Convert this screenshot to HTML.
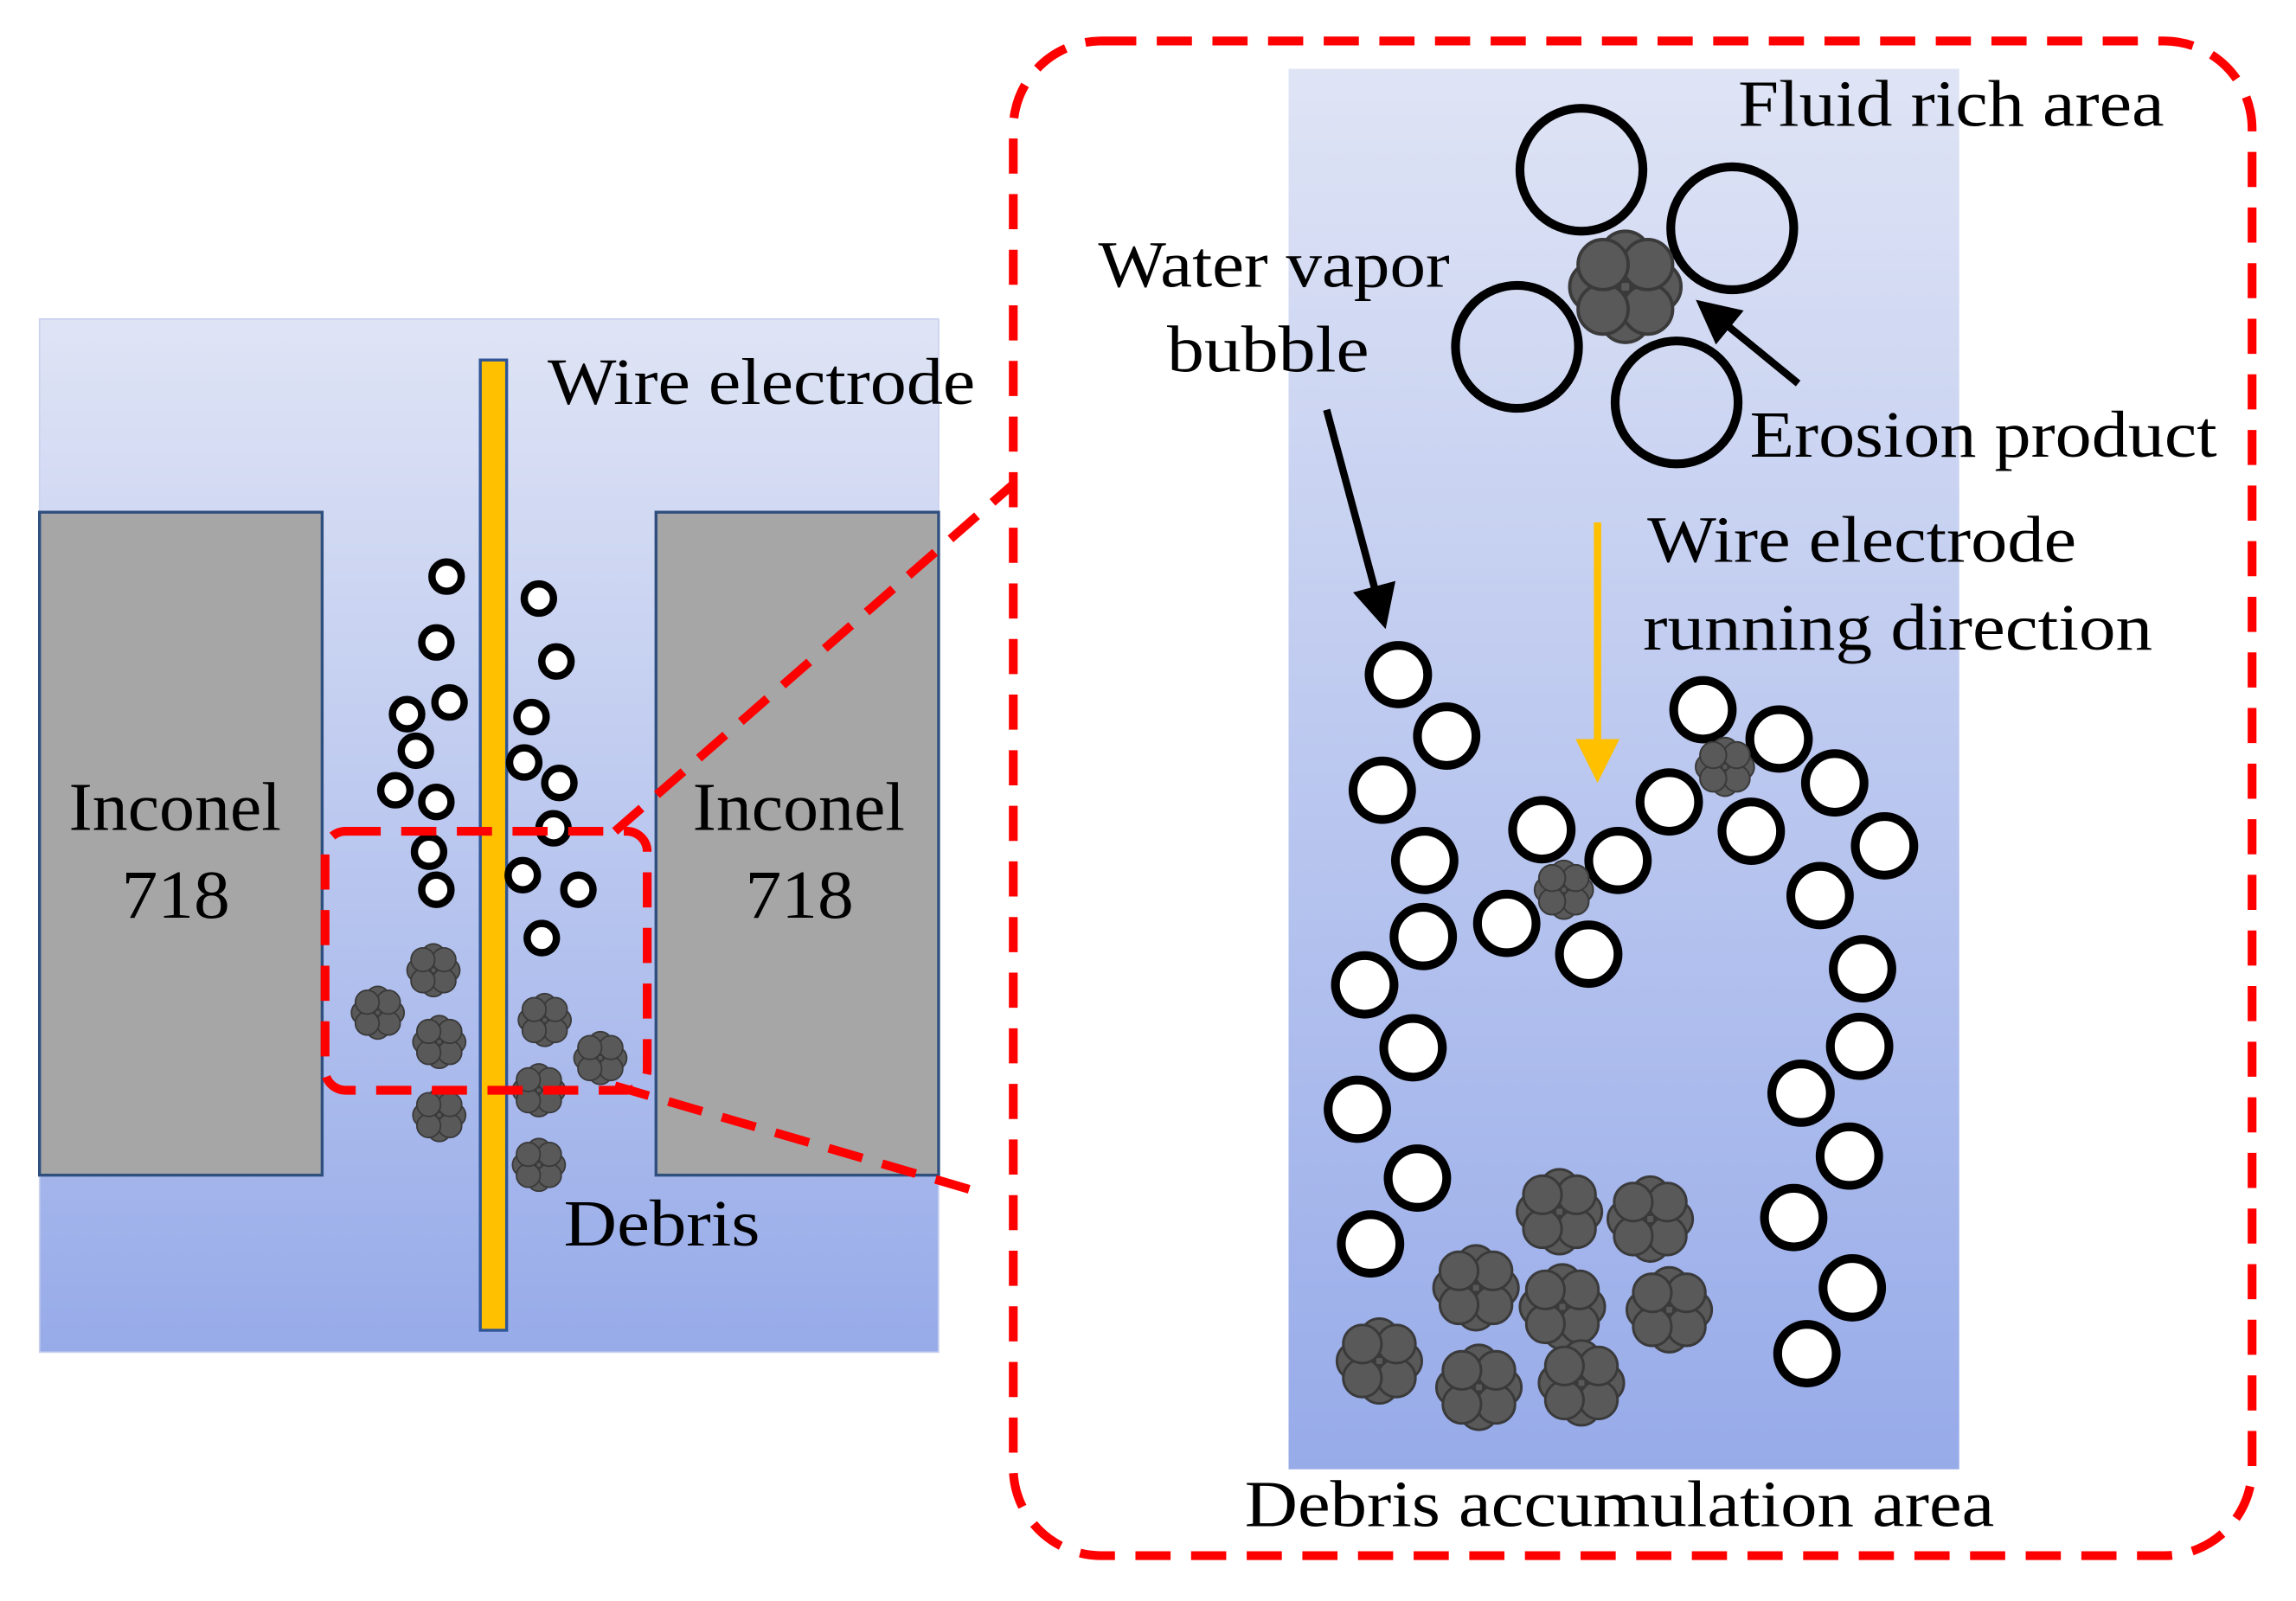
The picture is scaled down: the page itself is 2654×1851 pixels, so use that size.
<!DOCTYPE html>
<html><head><meta charset="utf-8"><style>
html,body{margin:0;padding:0;background:#fff;}
svg{display:block;}
text{font-family:"Liberation Serif",serif;fill:#000;}
</style></head><body>
<svg width="2654" height="1851" viewBox="0 0 1568 1094" preserveAspectRatio="none" xmlns="http://www.w3.org/2000/svg">
<defs>
<linearGradient id="g" x1="0" y1="0" x2="0" y2="1">
<stop offset="0" stop-color="#dfe4f5"/><stop offset="1" stop-color="#97abe9"/>
</linearGradient>
<g id="blob">
<circle cx="0" cy="0" r="0.62"/>
<circle cx="0.55" cy="0" r="0.45"/><circle cx="-0.55" cy="0" r="0.45"/>
<circle cx="0" cy="0.55" r="0.45"/><circle cx="0" cy="-0.55" r="0.45"/>
<circle cx="0.4" cy="0.4" r="0.45"/><circle cx="-0.4" cy="0.4" r="0.45"/>
<circle cx="0.4" cy="-0.4" r="0.45"/><circle cx="-0.4" cy="-0.4" r="0.45"/>
</g>
<marker id="ab" markerWidth="6" markerHeight="6" refX="5" refY="3" orient="auto" markerUnits="strokeWidth"><path d="M0,0 L6,3 L0,6 z" fill="#000"/></marker>
<marker id="ao" markerWidth="6" markerHeight="6" refX="5" refY="3" orient="auto" markerUnits="strokeWidth"><path d="M0,0 L6,3 L0,6 z" fill="#ffc000"/></marker>
</defs>

<rect x="27" y="218" width="614" height="706" fill="url(#g)" stroke="#c9d1ee" stroke-width="1"/>
<rect x="27" y="350" width="193" height="453" fill="#a6a6a6" stroke="#2f4f7f" stroke-width="2"/>
<rect x="448" y="350" width="193" height="453" fill="#a6a6a6" stroke="#2f4f7f" stroke-width="2"/>
<g font-size="47" lengthAdjust="spacingAndGlyphs">
<text x="47" y="567" textLength="145" lengthAdjust="spacingAndGlyphs">Inconel</text>
<text x="83" y="627" textLength="74" lengthAdjust="spacingAndGlyphs">718</text>
<text x="473" y="567" textLength="145" lengthAdjust="spacingAndGlyphs">Inconel</text>
<text x="509" y="627" textLength="74" lengthAdjust="spacingAndGlyphs">718</text>
</g>
<rect x="328" y="246" width="18" height="663" fill="#ffc000" stroke="#2f5597" stroke-width="2"/>
<text x="374" y="276" font-size="45" textLength="292" lengthAdjust="spacingAndGlyphs">Wire electrode</text>
<text x="385" y="851" font-size="45" textLength="134" lengthAdjust="spacingAndGlyphs">Debris</text>

<g fill="#fff" stroke="#000" stroke-width="5">
<circle cx="305" cy="394" r="10"/><circle cx="298" cy="439" r="10"/><circle cx="307" cy="480" r="10"/>
<circle cx="278" cy="488" r="10"/><circle cx="284" cy="513" r="10"/><circle cx="270" cy="540" r="10"/>
<circle cx="298" cy="548" r="10"/><circle cx="293" cy="582" r="10"/><circle cx="298" cy="608" r="10"/>
<circle cx="368" cy="409" r="10"/><circle cx="380" cy="452" r="10"/><circle cx="363" cy="490" r="10"/>
<circle cx="358" cy="521" r="10"/><circle cx="382" cy="535" r="10"/><circle cx="378" cy="566" r="10"/>
<circle cx="357" cy="598" r="10"/><circle cx="395" cy="608" r="10"/><circle cx="370" cy="641" r="10"/>
</g>
<g fill="#595959" stroke="#3a3a3a" stroke-width="0.06">
<use href="#blob" transform="translate(296,663) scale(18)"/>
<use href="#blob" transform="translate(258,692) scale(18)"/>
<use href="#blob" transform="translate(300,712) scale(18)"/>
<use href="#blob" transform="translate(372,697) scale(18)"/>
<use href="#blob" transform="translate(410,723) scale(18)"/>
<use href="#blob" transform="translate(368,745) scale(18)"/>
<use href="#blob" transform="translate(300,762) scale(18)"/>
<use href="#blob" transform="translate(368,796) scale(18)"/>
</g>

<g fill="none" stroke="#ff0000" stroke-width="6" stroke-dasharray="24,14">
<rect x="222" y="568" width="220" height="177" rx="14"/>
<line x1="420" y1="568" x2="693" y2="330"/>
<line x1="420" y1="742" x2="670" y2="815"/>
<rect x="692" y="28" width="846" height="1035" rx="60"/>
</g>

<rect x="880" y="47" width="458" height="957" fill="url(#g)"/>
<g font-size="45">
<text x="1187" y="86" textLength="291" lengthAdjust="spacingAndGlyphs">Fluid rich area</text>
<text x="750" y="196" textLength="240" lengthAdjust="spacingAndGlyphs">Water vapor</text>
<text x="797" y="254" textLength="138" lengthAdjust="spacingAndGlyphs">bubble</text>
<text x="1195" y="312" textLength="319" lengthAdjust="spacingAndGlyphs">Erosion product</text>
<text x="1125" y="384" textLength="293" lengthAdjust="spacingAndGlyphs">Wire electrode</text>
<text x="1122" y="444" textLength="348" lengthAdjust="spacingAndGlyphs">running direction</text>
<text x="850" y="1043" textLength="512" lengthAdjust="spacingAndGlyphs">Debris accumulation area</text>
</g>

<g fill="none" stroke="#000" stroke-width="6">
<circle cx="1080" cy="116" r="42"/><circle cx="1183" cy="156" r="42"/>
<circle cx="1036" cy="237" r="42"/><circle cx="1145" cy="275" r="42"/>
</g>
<g fill="#595959" stroke="#3a3a3a" stroke-width="0.06">
<use href="#blob" transform="translate(1110,196) scale(38)"/>
</g>
<line x1="1228" y1="262" x2="1162" y2="208" stroke="#000" stroke-width="5" marker-end="url(#ab)"/>
<line x1="906" y1="280" x2="945" y2="425" stroke="#000" stroke-width="5" marker-end="url(#ab)"/>
<line x1="1091" y1="357" x2="1091" y2="530" stroke="#ffc000" stroke-width="5" marker-end="url(#ao)"/>

<g fill="#fff" stroke="#000" stroke-width="6">
<circle cx="955" cy="461" r="20"/><circle cx="988" cy="503" r="20"/><circle cx="944" cy="540" r="20"/>
<circle cx="973" cy="588" r="20"/><circle cx="972" cy="640" r="20"/><circle cx="932" cy="673" r="20"/>
<circle cx="965" cy="716" r="20"/><circle cx="927" cy="758" r="20"/><circle cx="968" cy="805" r="20"/>
<circle cx="936" cy="850" r="20"/>
<circle cx="1053" cy="567" r="20"/><circle cx="1105" cy="588" r="20"/><circle cx="1029" cy="631" r="20"/>
<circle cx="1085" cy="652" r="20"/><circle cx="1140" cy="548" r="20"/><circle cx="1163" cy="485" r="20"/>
<circle cx="1215" cy="505" r="20"/><circle cx="1196" cy="568" r="20"/><circle cx="1253" cy="535" r="20"/>
<circle cx="1287" cy="578" r="20"/><circle cx="1243" cy="612" r="20"/><circle cx="1272" cy="662" r="20"/>
<circle cx="1270" cy="715" r="20"/><circle cx="1230" cy="747" r="20"/><circle cx="1263" cy="790" r="20"/>
<circle cx="1225" cy="832" r="20"/><circle cx="1265" cy="880" r="20"/><circle cx="1234" cy="925" r="20"/>
</g>
<g fill="#595959" stroke="#3a3a3a" stroke-width="0.06">
<use href="#blob" transform="translate(1068,608) scale(20)"/>
<use href="#blob" transform="translate(1178,524) scale(20)"/>
<use href="#blob" transform="translate(1065,828) scale(29)"/>
<use href="#blob" transform="translate(1127,833) scale(29)"/>
<use href="#blob" transform="translate(1008,880) scale(29)"/>
<use href="#blob" transform="translate(1067,893) scale(29)"/>
<use href="#blob" transform="translate(1140,895) scale(29)"/>
<use href="#blob" transform="translate(942,930) scale(29)"/>
<use href="#blob" transform="translate(1010,948) scale(29)"/>
<use href="#blob" transform="translate(1080,945) scale(29)"/>
</g>
</svg>
</body></html>
